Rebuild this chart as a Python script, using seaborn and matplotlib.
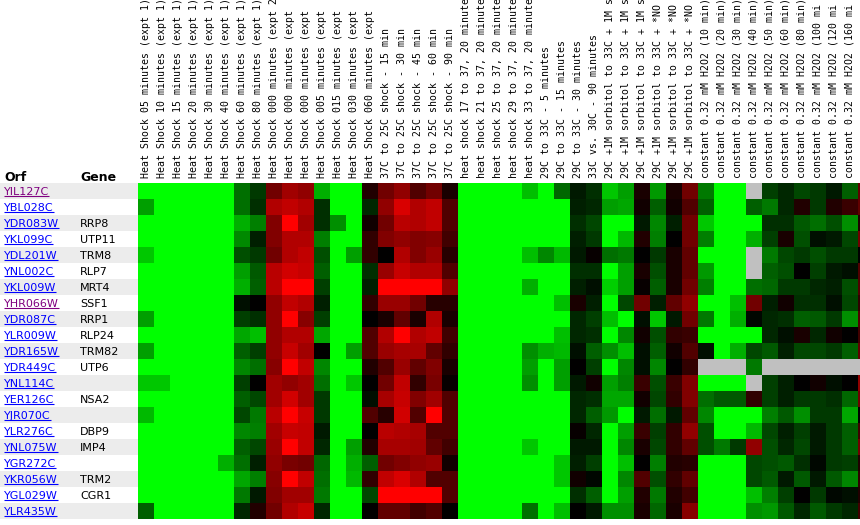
import numpy as np
import pandas as pd
import matplotlib
matplotlib.use('Agg')
import matplotlib.pyplot as plt
import seaborn as sns
from matplotlib.colors import LinearSegmentedColormap

nan = np.nan

orfs = ['YIL127C', 'YBL028C', 'YDR083W', 'YKL099C', 'YDL201W', 'YNL002C', 'YKL009W',
        'YHR066W', 'YDR087C', 'YLR009W', 'YDR165W', 'YDR449C', 'YNL114C', 'YER126C',
        'YJR070C', 'YLR276C', 'YNL075W', 'YGR272C', 'YKR056W', 'YGL029W', 'YLR435W']
genes = ['', '', 'RRP8', 'UTP11', 'TRM8', 'RLP7', 'MRT4', 'SSF1', 'RRP1', 'RLP24', 'TRM82',
         'UTP6', '', 'NSA2', '', 'DBP9', 'IMP4', '', 'TRM2', 'CGR1', '']
visited = ['YIL127C', 'YHR066W']

conditions = [
    'Heat Shock 05 minutes (expt 1)', 'Heat Shock 10 minutes (expt 1)',
    'Heat Shock 15 minutes (expt 1)', 'Heat Shock 20 minutes (expt 1)',
    'Heat Shock 30 minutes (expt 1)', 'Heat Shock 40 minutes (expt 1)',
    'Heat Shock 60 minutes (expt 1)', 'Heat Shock 80 minutes (expt 1)',
    'Heat Shock 000 minutes (expt 2', 'Heat Shock 000 minutes (expt',
    'Heat Shock 000 minutes (expt', 'Heat Shock 005 minutes (expt',
    'Heat Shock 015 minutes (expt', 'Heat Shock 030 minutes (expt',
    'Heat Shock 060 minutes (expt',
    '37C to 25C shock - 15 min', '37C to 25C shock - 30 min', '37C to 25C shock - 45 min',
    '37C to 25C shock - 60 min', '37C to 25C shock - 90 min',
    'heat shock 17 to 37, 20 minute', 'heat shock 21 to 37, 20 minute',
    'heat shock 25 to 37, 20 minute', 'heat shock 29 to 37, 20 minute',
    'heat shock 33 to 37, 20 minute',
    '29C to 33C - 5 minutes', '29C to 33C - 15 minutes', '29C to 33C - 30 minutes',
    '33C vs. 30C - 90 minutes',
    '29C +1M sorbitol to 33C + 1M s', '29C +1M sorbitol to 33C + 1M s',
    '29C +1M sorbitol to 33C + 1M s',
    '29C +1M sorbitol to 33C + *NO', '29C +1M sorbitol to 33C + *NO',
    '29C +1M sorbitol to 33C + *NO',
    'constant 0.32 mM H2O2 (10 min)', 'constant 0.32 mM H2O2 (20 min)',
    'constant 0.32 mM H2O2 (30 min)', 'constant 0.32 mM H2O2 (40 min)',
    'constant 0.32 mM H2O2 (50 min)', 'constant 0.32 mM H2O2 (60 min)',
    'constant 0.32 mM H2O2 (80 min)', 'constant 0.32 mM H2O2 (100 mi',
    'constant 0.32 mM H2O2 (120 mi', 'constant 0.32 mM H2O2 (160 mi',
    '']

# log ratios (green < 0 < red), nan = no data
G = -8
expression = [
    [G, G, G, G, G, G, -3.5, -1.8, 3.5, 5, 4.5, -5.5, G, G, 1, 3.5, 4.5, 2.5, 3.5, 0.8, G, G, G, G, -6, G, -3.2, -0.8, -1.5, -6.2, -5, 0.8, -4.8, 0.8, 3.5, -3.8, G, G, nan, -2, -1.2, -2.2, -1.8, -0.8, -3, 3],
    [-5, G, G, G, G, G, -3.5, -1.5, 5.5, 6, 5.5, -1.5, G, G, -1.2, 4.5, 6.8, 5.5, 6, 2.5, G, G, G, G, G, G, G, -1, -1.2, -5, -5.2, 0.5, -3, 0.5, 2.5, -3, G, G, -3, -3.8, -1.2, 1, -1.8, 1, 1.8, 3],
    [G, G, G, G, G, G, -5.5, -4, 4, 8, 5, -1.5, -4.5, G, 0.5, 3.5, 5.8, 5.5, 6, 2.5, G, G, G, G, G, G, G, -1.5, -2.2, G, G, -0.8, -4.2, -1, 3.5, -6.2, G, G, G, -1.5, -1.5, -2.8, -3.5, -2.5, -4.5, 1],
    [G, G, G, G, G, G, -4.3, -1, 4, 5.5, 5.5, -4, G, G, 1.5, 4, 4.5, 4, 4.2, 2, G, G, G, G, G, G, G, -1, -1.8, G, -5.8, 1, -4, 0, 3.5, -4, G, G, -5.5, -2, 0.8, -2.5, -0.5, -0.8, -2.2, 3.5],
    [-6.2, G, G, G, G, G, -2.5, -1.8, 3.5, 5.5, 6, -2.5, G, -5, 1.5, 0, 5.5, 4, 4.8, 1.2, G, G, G, G, -6, -4.2, -5.8, -0.8, 0.2, -3.5, -3.8, 0, -1.8, 0.8, 3, G, G, G, nan, -3.8, -2.2, -1.8, -2.5, -1.8, -1.8, 0],
    [G, G, G, G, G, G, -5, -2.8, 5.8, 6.5, 6.2, -3, G, G, -1.5, 4.8, 6.2, 5.5, 5.5, 2.5, G, G, G, G, G, G, G, -1.5, -1.5, G, -5, 0.8, -2.5, 0.8, 3, -4.8, G, G, nan, -3, -2.5, 0, -2, -0.8, -0.5, 2.5],
    [G, G, G, G, G, G, -5.5, -3, 5.8, 8, 8, -2, G, G, -1, 8, 8, 8, 8, 4.5, G, G, G, G, -5.5, G, G, -1, -0.5, -6.5, -5, 0.2, -3, 0.8, 3.5, -4, G, G, -3.5, -3.2, -1.8, -1.8, -1.2, -1, -2.5, 2.5],
    [G, G, G, G, G, G, -0.5, 0, 4.5, 6, 5.5, -1, G, G, 1.5, 4.8, 4.8, 3.5, 1.2, 1.2, G, G, G, G, G, G, -6, 0.8, -1, G, -2.2, 3.5, -1, 3, 4.5, G, G, -6, 3.5, -1, 0.5, -1.5, -1.5, -0.5, -2.2, 1.5],
    [-5, G, G, G, G, G, -2, -1.5, 4.5, 8, 4.2, -2, G, G, 0, 0.8, 3, 0.8, 5.5, 0.8, G, G, G, G, G, G, G, -1.2, -2, -6, G, -0.5, -6.2, -0.8, 3.5, -3.8, G, -5.5, -0.2, -1.2, -1.5, -3, -2.8, -1.8, -4.5, 2.5],
    [G, G, G, G, G, G, -5.2, -6, 4.5, 5.5, 5.5, -5.2, G, G, 2.5, 5.5, 8, 5.5, 6, 2, G, G, G, G, G, G, -6, -1.2, -1.5, G, -4.2, 0.5, -2.5, 1.5, 1.8, G, G, G, G, -1.2, -0.5, 0.8, -1.2, 0.5, 0, 2],
    [-5, G, G, G, G, G, -3, -2, 4.5, 6.2, 5, 0, G, -5, 2.5, 4.8, 5.2, 5.2, 3, 1.5, G, G, G, G, -4.5, -5.5, -5.8, -0.5, -3, -4.5, -6, -0.5, -3, 0.5, 2.5, -0.5, G, -5.5, -2.2, -2.8, -1, -2.2, -2.2, -1.8, -3, 3],
    [G, G, G, G, G, G, -4.2, -3.5, 4.2, 8, 6, -4.2, G, G, 1, 2.5, 4.8, 3, 4, 0.8, G, G, G, G, -5, G, -5, 0, -2, G, -4.2, -0.5, -4.2, 0, 1.5, nan, nan, nan, -3.8, nan, nan, nan, nan, nan, nan, nan],
    [-6.2, -6.2, G, G, G, G, -2, 0, 5, 4.5, 5, -3.5, G, -6.2, 0, 3.5, 6, 1.5, 3.8, 0.2, G, G, G, G, -4.5, G, -5, -0.8, 0.5, -5, -4, 1.8, -2.5, 1.8, 4, G, G, G, nan, -2, -1, 0, 0.5, -0.5, 0, 4.5],
    [G, G, G, G, G, G, -3, -2.2, 5, 6.5, 5, -1.8, G, G, -0.5, 5.2, 6.2, 4, 5, 2.5, G, G, G, G, G, G, G, -1.2, -1.5, -5.2, -5.2, 0.5, -2.2, 1.5, 4, -3.5, -2.8, -2.8, 1.5, -2, -1, -1.8, -1.8, -1.5, -3.2, 3.5],
    [-5.8, G, G, G, G, G, -2.2, -3.8, 5.8, 8, 6.2, -1.8, G, G, 2.5, 1.2, 6.5, 2.5, 8, 2.5, G, G, G, G, G, G, G, -1.2, -3, -4.8, G, -0.8, -3.5, -0.8, 3, -4.2, G, G, G, -4, -2.8, -4.5, -1.8, -1.8, -5.2, 0],
    [G, G, G, G, G, G, -4.2, -4, 5, 6.2, 6, -0.8, G, G, 0, 5.8, 5.5, 5.2, 2.5, 2.5, G, G, G, G, G, G, G, 0.2, -1.2, G, -5, 1.8, -2, 1.5, 4.5, -2.5, G, G, -5.8, -2.2, -1, -2, -0.8, -1.8, -3, 2],
    [G, G, G, G, G, G, -3, -2.2, 4.8, 8, 6, -1.2, G, -5, 1, 5.2, 5.2, 5, 3, 2, G, G, G, G, -6.2, G, G, -0.8, -0.8, G, -4.2, 0.8, -2.2, 1.5, 3, -2.5, -3.8, -1.8, 4.5, -2.5, -1.2, -2.2, -0.8, -1.8, -3, 3.5],
    [G, G, G, G, G, -5.5, -3.5, -1, 4.5, 3.8, 3.5, -3.2, G, -5.5, -3, 3.5, 4, 4.5, 4.8, 0.5, G, G, G, G, G, G, -6.2, -1, -2, G, -6, 0, -4, 1, 1.2, G, G, G, -2.2, -2.5, -2.8, -1.5, -0.2, -1.8, -2, 1],
    [G, G, G, G, G, G, -5.2, -4, 4.2, 8, 6, -3.5, G, -5.8, 1.5, 6, 6.8, 5.5, 2.5, 2.5, G, G, G, G, G, G, -6.2, 0.5, -0.2, G, -4.2, 2.5, -2.5, 1.5, 3, G, G, G, -2.2, -2.8, -0.8, -2.8, -0.8, -2.8, -4.2, 1.5],
    [G, G, G, G, G, G, -3.8, -0.8, 4, 5, 5, -3.8, G, G, -2.2, 8, 8, 8, 8, 2.5, G, G, G, G, G, G, G, -1.5, -3, G, -5, 1, -3.8, 1, 2, G, G, G, -6, -4, -2, 0, -1.8, -0.2, -0.5, 1],
    [-3, G, G, G, G, G, -1.2, 1, 3.5, 5.5, 6.2, -1.2, G, G, 0, 3, 3, 2, 2.5, 0, G, G, G, G, -3.5, G, -6, 0, -0.8, -4.5, -4.5, 0.8, -3.2, 0.8, 4.2, G, G, G, -4.5, -4.8, -2.8, -1.2, -2.8, -1.8, -1.2, 2],
]

df = pd.DataFrame(expression, index=orfs, columns=range(len(conditions)))

W, H = 860, 525
left, top, cell = 138, 183, 16
n_rows, n_cols = df.shape

fig = plt.figure(figsize=(W / 100, H / 100), dpi=100)
fig.patch.set_facecolor('white')

ax = fig.add_axes([left / W, (H - top - n_rows * cell) / H, n_cols * cell / W, n_rows * cell / H])
cmap = LinearSegmentedColormap.from_list('gbr', ['#00ff00', '#000000', '#ff0000'])
sns.heatmap(df, ax=ax, cmap=cmap, vmin=-8, vmax=8, cbar=False,
            xticklabels=False, yticklabels=False, linewidths=0)
ax.set_facecolor('#c0c0c0')
ax.set_xlabel('')
ax.set_ylabel('')

for i, name in enumerate(conditions):
    ax.annotate(name, xy=(i + 0.5, 0), xycoords='data', xytext=(0, 3.4),
                textcoords='offset points', rotation=90, ha='center', va='bottom',
                fontsize=7.1, family='DejaVu Sans Mono', color='black',
                annotation_clip=False)

# Orf / Gene table on the left
lab = fig.add_axes([0, (H - top - n_rows * cell) / H, left / W, n_rows * cell / H])
lab.set_xlim(0, left)
lab.set_ylim(n_rows, 0)
lab.axis('off')
for r in range(n_rows):
    if r % 2 == 0:
        lab.axhspan(r, r + 1, color='#ececec', lw=0)

lab.text(4, -0.14, 'Orf', fontsize=9, fontweight='bold', family='DejaVu Sans',
         va='baseline', ha='left', clip_on=False)
lab.text(80, -0.14, 'Gene', fontsize=9, fontweight='bold', family='DejaVu Sans',
         va='baseline', ha='left', clip_on=False)

orf_texts = []
for r, (o, g) in enumerate(zip(orfs, genes)):
    c = '#800080' if o in visited else '#0000ff'
    t = lab.text(4, r + 0.72, o, fontsize=8, family='DejaVu Sans', color=c,
                 va='baseline', ha='left')
    orf_texts.append((t, r, c))
    if g:
        lab.text(80, r + 0.72, g, fontsize=8, family='DejaVu Sans', color='black',
                 va='baseline', ha='left')

fig.canvas.draw()
inv = lab.transData.inverted()
for t, r, c in orf_texts:
    bb = t.get_window_extent()
    x0 = inv.transform((bb.x0, 0))[0]
    x1 = inv.transform((bb.x1, 0))[0]
    lab.plot([x0, x1], [r + 0.8, r + 0.8], color=c, lw=0.8, solid_capstyle='butt')

fig.savefig('out.png', dpi=100)
